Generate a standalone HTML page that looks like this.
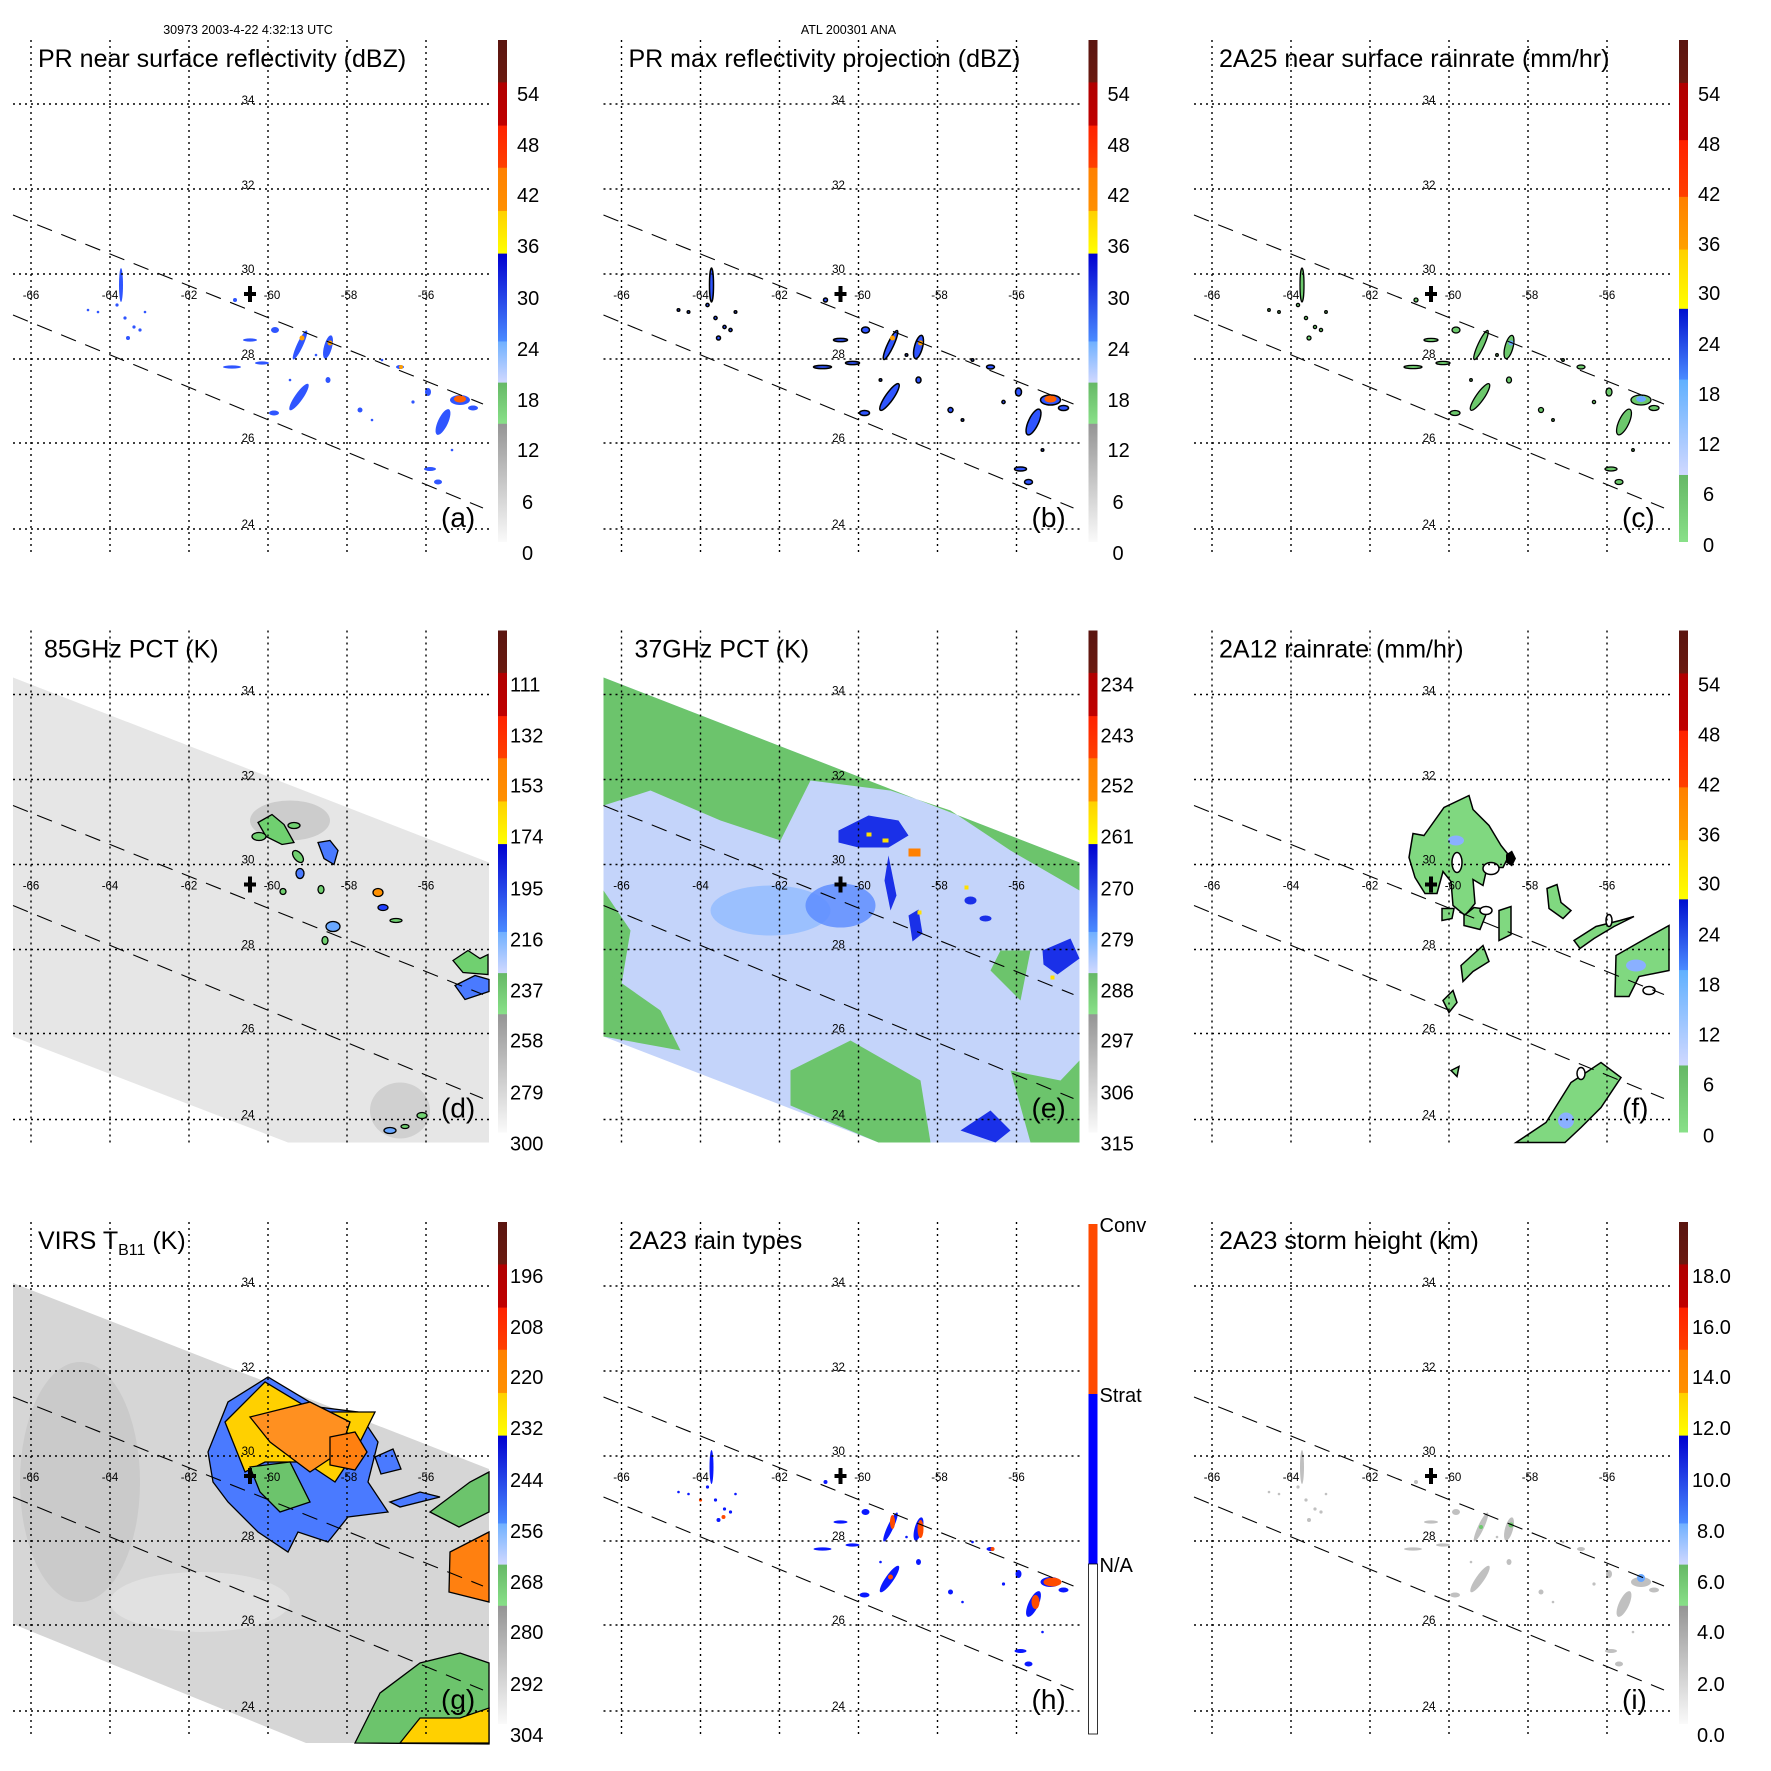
<!DOCTYPE html>
<html><head><meta charset="utf-8"><style>
html,body{margin:0;padding:0;background:#fff}
svg{display:block;font-family:"Liberation Sans",sans-serif}
</style></head><body>
<svg width="1771" height="1771" viewBox="0 0 1771 1771" xmlns="http://www.w3.org/2000/svg">
<defs>
<linearGradient id="gA" gradientUnits="userSpaceOnUse" x1="0" y1="40" x2="0" y2="542">
<stop offset="0" stop-color="#5a1510"/><stop offset="0.084" stop-color="#6a1a10"/>
<stop offset="0.085" stop-color="#b00000"/><stop offset="0.170" stop-color="#c00000"/>
<stop offset="0.171" stop-color="#ff2200"/><stop offset="0.254" stop-color="#ff4000"/>
<stop offset="0.255" stop-color="#ff8000"/><stop offset="0.340" stop-color="#ff9000"/>
<stop offset="0.341" stop-color="#ffd000"/><stop offset="0.425" stop-color="#ffff00"/>
<stop offset="0.426" stop-color="#0000d0"/><stop offset="0.6" stop-color="#4a8aff"/>
<stop offset="0.601" stop-color="#70b0ff"/><stop offset="0.682" stop-color="#d0d8ff"/>
<stop offset="0.683" stop-color="#66b866"/><stop offset="0.764" stop-color="#88e088"/>
<stop offset="0.765" stop-color="#959595"/><stop offset="1" stop-color="#fafafa"/>
</linearGradient>
<linearGradient id="gC" gradientUnits="userSpaceOnUse" x1="0" y1="40" x2="0" y2="542">
<stop offset="0" stop-color="#5a1510"/><stop offset="0.085" stop-color="#6a1a10"/>
<stop offset="0.086" stop-color="#b00000"/><stop offset="0.199" stop-color="#c00000"/>
<stop offset="0.2" stop-color="#ff2200"/><stop offset="0.312" stop-color="#ff4000"/>
<stop offset="0.313" stop-color="#ff8000"/><stop offset="0.417" stop-color="#ffa000"/>
<stop offset="0.418" stop-color="#ffd000"/><stop offset="0.535" stop-color="#ffff00"/>
<stop offset="0.536" stop-color="#0010d0"/><stop offset="0.676" stop-color="#4a8aff"/>
<stop offset="0.677" stop-color="#60b0ff"/><stop offset="0.866" stop-color="#d0d8ff"/>
<stop offset="0.867" stop-color="#66b866"/><stop offset="1" stop-color="#88e088"/>
</linearGradient>
<g id="grid" fill="none" stroke="#000" stroke-width="1.4" stroke-dasharray="2,4">
<path d="M31 40V552M110 40V552M189 40V552M268 40V552M347 40V552M426 40V552"/>
<path d="M13 104H489M13 189H489M13 274H489M13 359H489M13 443H489M13 529H489"/>
</g>
<g id="dash" fill="none" stroke="#000" stroke-width="1.1" stroke-dasharray="16,10">
<path d="M13 215L483 404M13 315L483 508"/>
</g>
<path id="cross" d="M245 290h4v-6h4v6h4v4h-4v6h-4v-6h-4z" transform="translate(-1,2)" fill="#000"/>
<g id="lbl" font-size="11.5" text-anchor="middle" fill="#000">
<text x="31" y="299">-66</text><text x="110" y="299">-64</text><text x="189" y="299">-62</text>
<text x="272" y="299">-60</text><text x="349" y="299">-58</text><text x="426" y="299">-56</text>
<text x="248" y="104">34</text><text x="248" y="189">32</text><text x="248" y="273">30</text>
<text x="248" y="358">28</text><text x="248" y="442">26</text><text x="248" y="528">24</text>
</g>
<g id="pr">
<ellipse cx="121" cy="285" rx="2" ry="17"/>
<circle cx="117" cy="305" r="1.6"/><circle cx="125" cy="318" r="1.6"/><circle cx="134" cy="327" r="1.6"/>
<circle cx="140" cy="330" r="1.6"/><circle cx="128" cy="338" r="2"/><circle cx="145" cy="312" r="1.3"/>
<circle cx="98" cy="312" r="1.3"/><circle cx="88" cy="310" r="1.3"/><circle cx="235" cy="300" r="2"/>
<ellipse cx="250" cy="340" rx="7" ry="1.6"/><ellipse cx="262" cy="363" rx="7" ry="1.6"/>
<ellipse cx="232" cy="367" rx="9" ry="1.6"/><ellipse cx="275" cy="330" rx="4" ry="3"/>
<ellipse cx="300" cy="345" rx="3" ry="16" transform="rotate(25 300 345)"/>
<ellipse cx="328" cy="347" rx="4" ry="12" transform="rotate(15 328 347)"/>
<ellipse cx="299" cy="397" rx="4" ry="16" transform="rotate(35 299 397)"/>
<ellipse cx="274" cy="413" rx="5" ry="2.5"/><ellipse cx="328" cy="380" rx="2.5" ry="3"/>
<ellipse cx="400" cy="367" rx="4" ry="2"/><ellipse cx="360" cy="410" rx="2.5" ry="2.5"/>
<ellipse cx="460" cy="400" rx="10" ry="5"/><ellipse cx="443" cy="422" rx="5" ry="14" transform="rotate(25 443 422)"/>
<ellipse cx="473" cy="408" rx="5" ry="2.5"/><ellipse cx="428" cy="392" rx="3" ry="4"/>
<ellipse cx="430" cy="469" rx="6" ry="2"/><ellipse cx="438" cy="482" rx="4" ry="2.5"/>
<circle cx="413" cy="402" r="1.6"/><circle cx="382" cy="360" r="1.3"/><circle cx="316" cy="355" r="1.3"/>
<circle cx="290" cy="380" r="1.3"/><circle cx="372" cy="420" r="1.3"/><circle cx="452" cy="450" r="1.3"/>
</g>
</defs>

<g transform="translate(0,0)">
<text x="248" y="34" font-size="12.5" text-anchor="middle">30973 2003-4-22 4:32:13 UTC</text>
<use href="#pr" fill="#2f55ff"/>
<g fill="#ffa000"><circle cx="302" cy="338" r="2.5"/><circle cx="330" cy="343" r="2.5"/><ellipse cx="460" cy="399" rx="6" ry="3.5" fill="#ff6000"/><circle cx="401" cy="367" r="2"/></g>
<use href="#grid"/><use href="#dash"/><use href="#cross"/><use href="#lbl"/>
<text x="38" y="67" font-size="25">PR near surface reflectivity (dBZ)</text>
<text x="441" y="527" font-size="28">(a)</text>
<rect x="498" y="40" width="9" height="502" fill="url(#gA)"/>
<g font-size="20"><text x="517" y="101">54</text><text x="517" y="152">48</text><text x="517" y="202">42</text><text x="517" y="253">36</text><text x="517" y="305">30</text><text x="517" y="356">24</text><text x="517" y="407">18</text><text x="517" y="457">12</text><text x="522" y="509">6</text><text x="522" y="560">0</text></g>
</g>

<g transform="translate(590.5,0)">
<text x="258" y="34" font-size="12.5" text-anchor="middle">ATL 200301 ANA</text>
<use href="#pr" fill="#2f55ff" stroke="#000" stroke-width="1.5"/>
<g fill="#ffa000"><circle cx="302" cy="338" r="2.5"/><circle cx="330" cy="343" r="2.5"/><ellipse cx="460" cy="399" rx="6" ry="3.5" fill="#ff6000"/></g>
<use href="#grid"/><use href="#dash"/><use href="#cross"/><use href="#lbl"/>
<text x="38" y="67" font-size="25">PR max reflectivity projection (dBZ)</text>
<text x="441" y="527" font-size="28">(b)</text>
<rect x="498" y="40" width="9" height="502" fill="url(#gA)"/>
<g font-size="20"><text x="517" y="101">54</text><text x="517" y="152">48</text><text x="517" y="202">42</text><text x="517" y="253">36</text><text x="517" y="305">30</text><text x="517" y="356">24</text><text x="517" y="407">18</text><text x="517" y="457">12</text><text x="522" y="509">6</text><text x="522" y="560">0</text></g>
</g>

<g transform="translate(1181,0)">
<use href="#pr" fill="#6cc86c" stroke="#000" stroke-width="1.3"/>
<g fill="#6aa8ff"><circle cx="330" cy="343" r="2.5"/><ellipse cx="460" cy="399" rx="5" ry="3"/></g>
<use href="#grid"/><use href="#dash"/><use href="#cross"/><use href="#lbl"/>
<text x="38" y="67" font-size="25">2A25 near surface rainrate (mm/hr)</text>
<text x="441" y="527" font-size="28">(c)</text>
<rect x="498" y="40" width="9" height="502" fill="url(#gC)"/>
<g font-size="20"><text x="517" y="101">54</text><text x="517" y="151">48</text><text x="517" y="201">42</text><text x="517" y="251">36</text><text x="517" y="300">30</text><text x="517" y="351">24</text><text x="517" y="401">18</text><text x="517" y="451">12</text><text x="522" y="501">6</text><text x="522" y="552">0</text></g>
</g>

<g transform="translate(0,590.5)">
<polygon points="13,87 489,272 489,552 288,552 13,446" fill="#e6e6e6"/>
<ellipse cx="290" cy="230" rx="40" ry="20" fill="#cccccc"/>
<ellipse cx="400" cy="520" rx="30" ry="28" fill="#d0d0d0"/>
<g fill="#70d070" stroke="#000" stroke-width="1.3">
<path d="M258 232 l14 -8 l12 10 l10 18 l-12 2 l-16 -8 z"/><ellipse cx="259" cy="246" rx="7" ry="4"/>
<ellipse cx="294" cy="235" rx="6" ry="3"/><path d="M318 252 l12 -2 l8 10 l-4 14 l-10 -6 z" fill="#4a7aff"/>
<ellipse cx="298" cy="266" rx="4" ry="7" transform="rotate(-40 298 266)"/><ellipse cx="300" cy="283" rx="4" ry="5" fill="#4a7aff"/>
<ellipse cx="283" cy="301" rx="3" ry="3"/><ellipse cx="321" cy="299" rx="3" ry="4"/><ellipse cx="378" cy="302" rx="5" ry="4" fill="#ff9000"/>
<ellipse cx="383" cy="317" rx="5" ry="3" fill="#2040ff"/><ellipse cx="396" cy="330" rx="6" ry="2"/><ellipse cx="333" cy="336" rx="7" ry="5" fill="#6aa8ff"/>
<ellipse cx="325" cy="350" rx="3" ry="4"/><path d="M453 370 l15 -10 l12 8 l8 -4 v20 l-25 -2 z"/><path d="M455 395 l20 -10 l14 4 v12 l-24 8 z" fill="#4a7aff"/>
<ellipse cx="422" cy="525" rx="5" ry="3"/><ellipse cx="390" cy="540" rx="6" ry="3" fill="#6aa8ff"/><ellipse cx="405" cy="536" rx="4" ry="2"/>
</g>
<use href="#grid"/><use href="#dash"/><use href="#cross"/><use href="#lbl"/>
<text x="44" y="67" font-size="25">85GHz PCT (K)</text>
<text x="441" y="527" font-size="28">(d)</text>
<rect x="498" y="40" width="9" height="502" fill="url(#gA)"/>
<g font-size="20"><text x="510" y="101">111</text><text x="510" y="152">132</text><text x="510" y="202">153</text><text x="510" y="253">174</text><text x="510" y="305">195</text><text x="510" y="356">216</text><text x="510" y="407">237</text><text x="510" y="457">258</text><text x="510" y="509">279</text><text x="510" y="560">300</text></g>
</g>

<g transform="translate(590.5,590.5)">
<polygon points="13,87 489,272 489,552 288,552 13,446" fill="#c4d4fa"/>
<polygon points="13,87 489,272 489,300 420,260 360,220 300,200 220,190 190,250 130,230 60,200 13,215" fill="#6cc46c"/>
<polygon points="13,300 40,340 30,400 13,420" fill="#6cc46c"/>
<polygon points="13,380 70,420 90,460 13,446" fill="#6cc46c"/>
<polygon points="200,480 260,450 330,490 340,552 288,552 200,515" fill="#6cc46c"/>
<polygon points="420,480 470,490 489,470 489,552 440,552" fill="#6cc46c"/>
<polygon points="410,360 440,360 430,410 400,380" fill="#6cc46c"/>
<ellipse cx="180" cy="320" rx="60" ry="25" fill="#8ab8ff" opacity="0.7"/>
<ellipse cx="250" cy="315" rx="35" ry="22" fill="#5a8aff" opacity="0.8"/>
<g fill="#1a30e8">
<path d="M248 240 l30 -15 l30 5 l10 15 l-20 12 l-30 0 l-20 -5z"/><path d="M298 265 l8 40 l-6 15 l-6 -30 z"/>
<path d="M318 325 l10 -6 l4 24 l-10 8 z"/><path d="M452 360 l28 -12 l9 20 l-22 16 l-14 -10 z"/>
<path d="M370 540 l30 -20 l20 20 l-15 12 z"/><ellipse cx="380" cy="310" rx="6" ry="4"/><ellipse cx="395" cy="328" rx="6" ry="3"/>
</g>
<g fill="#ffe000"><rect x="276" y="242" width="5" height="4"/><rect x="292" y="248" width="6" height="4"/><rect x="318" y="258" width="12" height="8" fill="#ff8000"/><rect x="327" y="320" width="4" height="4"/><rect x="460" y="385" width="4" height="4"/><rect x="374" y="295" width="4" height="4"/></g>
<use href="#grid"/><use href="#dash"/><use href="#cross"/><use href="#lbl"/>
<text x="44" y="67" font-size="25">37GHz PCT (K)</text>
<text x="441" y="527" font-size="28">(e)</text>
<rect x="498" y="40" width="9" height="502" fill="url(#gA)"/>
<g font-size="20"><text x="510" y="101">234</text><text x="510" y="152">243</text><text x="510" y="202">252</text><text x="510" y="253">261</text><text x="510" y="305">270</text><text x="510" y="356">279</text><text x="510" y="407">288</text><text x="510" y="457">297</text><text x="510" y="509">306</text><text x="510" y="560">315</text></g>
</g>

<g transform="translate(1181,590.5)">
<g fill="#80d880" stroke="#000" stroke-width="1.5">
<path d="M243 245 l20 -28 l25 -12 l4 14 l16 16 l12 20 l8 10 l-6 12 l-16 0 l-4 18 l-10 -6 l2 24 l-10 12 l-12 -10 l-2 -24 l-8 -10 l-6 22 l-12 0 l-10 -16 l-6 -20 l4 -24 z"/>
<path d="M283 325 l10 -8 l14 2 l-8 20 l-16 -4 z"/><path d="M318 320 l12 -4 l0 28 l-12 6 z"/>
<path d="M261 318 l12 0 l-2 10 l-10 2 z"/><path d="M280 375 l22 -20 l6 16 l-16 10 l-10 10 z"/><path d="M262 410 l10 -10 l4 12 l-8 10 z"/>
<path d="M366 298 l10 -4 l4 18 l10 8 l-8 8 l-14 -10 z"/><path d="M393 350 l22 -14 l24 -6 l14 -4 l-20 10 l-20 12 l-14 10 z"/>
<path d="M435 365 l35 -20 l18 -10 v45 l-30 6 l-10 20 l-14 0 z"/><path d="M335 552 l30 -20 l25 -40 l30 -20 l20 15 l-20 30 l-20 20 l-16 15 z"/>
<path d="M270 480 l8 -4 l-2 10 z"/>
</g>
<g fill="#8ab0ff"><ellipse cx="275" cy="250" rx="8" ry="5"/><ellipse cx="455" cy="375" rx="10" ry="6"/><ellipse cx="385" cy="530" rx="8" ry="8"/></g>
<g fill="#fff" stroke="#000" stroke-width="1.5"><ellipse cx="276" cy="272" rx="5" ry="10"/><ellipse cx="310" cy="278" rx="8" ry="6"/><ellipse cx="305" cy="320" rx="6" ry="4"/><ellipse cx="428" cy="330" rx="3" ry="6"/><ellipse cx="468" cy="400" rx="6" ry="4"/><ellipse cx="400" cy="483" rx="4" ry="6"/></g>
<path d="M325 264 l6 -4 l4 8 l-4 8 l-6 -4 z" fill="#000"/>
<use href="#grid"/><use href="#dash"/><use href="#cross"/><use href="#lbl"/>
<text x="38" y="67" font-size="25">2A12 rainrate (mm/hr)</text>
<text x="441" y="527" font-size="28">(f)</text>
<rect x="498" y="40" width="9" height="502" fill="url(#gC)"/>
<g font-size="20"><text x="517" y="101">54</text><text x="517" y="151">48</text><text x="517" y="201">42</text><text x="517" y="251">36</text><text x="517" y="300">30</text><text x="517" y="351">24</text><text x="517" y="401">18</text><text x="517" y="451">12</text><text x="522" y="501">6</text><text x="522" y="552">0</text></g>
</g>

<g transform="translate(0,1182)">
<polygon points="13,101 489,287 489,561 306,561 13,442" fill="#d6d6d6"/>
<ellipse cx="80" cy="300" rx="60" ry="120" fill="#c4c4c4" opacity="0.7"/>
<ellipse cx="200" cy="420" rx="90" ry="30" fill="#e4e4e4" opacity="0.8"/>
<g stroke="#000" stroke-width="1.3">
<path d="M208 270 l20 -50 l40 -25 l50 30 l40 5 l20 30 l-10 40 l20 30 l-40 5 l-20 25 l-30 -10 l-10 20 l-30 -20 l-30 -30 l-15 -20 z" fill="#4a7aff"/>
<path d="M225 240 l40 -40 l50 30 l60 0 l-20 40 l-20 30 l-30 -20 l-40 0 l-20 10 z" fill="#ffd000"/>
<path d="M250 235 l60 -15 l40 20 l-10 30 l-30 20 l-40 -30 z" fill="#ff9020"/>
<path d="M330 255 l25 -5 l12 20 l-12 18 l-25 -5 z" fill="#ff8010"/>
<path d="M250 285 l40 -5 l20 40 l-30 10 l-20 -20 z" fill="#6cc46c"/>
<path d="M375 275 l18 -8 l8 20 l-20 5 z" fill="#4a7aff"/><path d="M390 320 l30 -10 l20 5 l-40 10 z" fill="#4a7aff"/>
<path d="M430 330 l40 -30 l19 -10 v40 l-30 15 z" fill="#6cc46c"/>
<path d="M450 370 l39 -20 v70 l-40 -10 z" fill="#ff8010"/>
<path d="M355 561 l25 -50 l40 -30 l40 -10 l29 10 v81 z" fill="#6cc46c"/>
<path d="M400 561 l20 -25 l40 0 l29 -10 v35 z" fill="#ffd000"/>
</g>
<use href="#grid"/><use href="#dash"/><use href="#cross"/><use href="#lbl"/>
<text x="38" y="67" font-size="25">VIRS T<tspan font-size="16" dy="6">B11</tspan><tspan dy="-6"> (K)</tspan></text>
<text x="441" y="527" font-size="28">(g)</text>
<rect x="498" y="40" width="9" height="502" fill="url(#gA)"/>
<g font-size="20"><text x="510" y="101">196</text><text x="510" y="152">208</text><text x="510" y="202">220</text><text x="510" y="253">232</text><text x="510" y="305">244</text><text x="510" y="356">256</text><text x="510" y="407">268</text><text x="510" y="457">280</text><text x="510" y="509">292</text><text x="510" y="560">304</text></g>
</g>

<g transform="translate(590.5,1182)">
<use href="#pr" fill="#0a18ff"/>
<g fill="#ff4a00"><ellipse cx="302" cy="340" rx="2.5" ry="7"/><ellipse cx="330" cy="347" rx="3" ry="9"/><ellipse cx="462" cy="400" rx="9" ry="4.5"/><ellipse cx="445" cy="420" rx="4" ry="7"/><circle cx="133" cy="335" r="2"/><circle cx="110" cy="318" r="1.6"/><circle cx="300" cy="395" r="2.5"/><circle cx="402" cy="367" r="2"/></g>
<use href="#grid"/><use href="#dash"/><use href="#cross"/><use href="#lbl"/>
<text x="38" y="67" font-size="25">2A23 rain types</text>
<text x="441" y="527" font-size="28">(h)</text>
<rect x="498" y="42" width="9" height="170" fill="#ff4a00"/>
<rect x="498" y="212" width="9" height="170" fill="#0000ff"/>
<rect x="498" y="382" width="9" height="170" fill="#fff" stroke="#000" stroke-width="0.8"/>
<g font-size="20"><text x="509" y="50">Conv</text><text x="509" y="220">Strat</text><text x="509" y="390">N/A</text></g>
</g>

<g transform="translate(1181,1182)">
<use href="#pr" fill="#c0c0c0"/>
<g fill="#6cc86c"><circle cx="330" cy="343" r="2.5"/><circle cx="460" cy="396" r="4" fill="#6aa8ff"/><circle cx="300" cy="345" r="2"/></g>
<use href="#grid"/><use href="#dash"/><use href="#cross"/><use href="#lbl"/>
<text x="38" y="67" font-size="25">2A23 storm height (km)</text>
<text x="441" y="527" font-size="28">(i)</text>
<rect x="498" y="40" width="9" height="502" fill="url(#gA)"/>
<g font-size="20"><text x="511" y="101">18.0</text><text x="511" y="152">16.0</text><text x="511" y="202">14.0</text><text x="511" y="253">12.0</text><text x="511" y="305">10.0</text><text x="516" y="356">8.0</text><text x="516" y="407">6.0</text><text x="516" y="457">4.0</text><text x="516" y="509">2.0</text><text x="516" y="560">0.0</text></g>
</g>
</svg>
</body></html>
